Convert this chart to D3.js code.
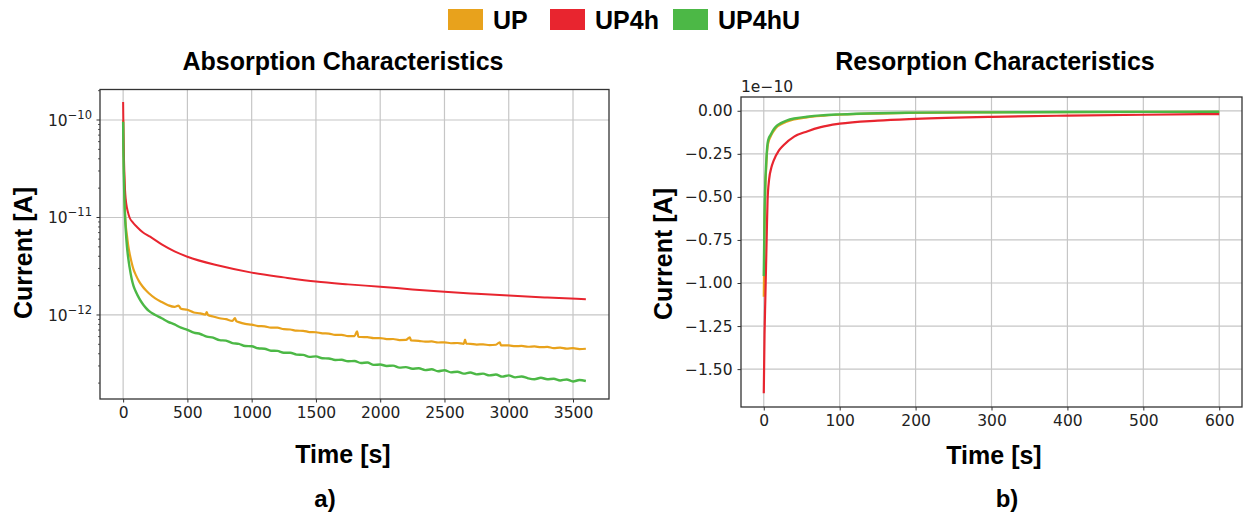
<!DOCTYPE html>
<html>
<head>
<meta charset="utf-8">
<script src="https://cdn.jsdelivr.net/npm/d3@7"></script>
<style>
  body { margin: 0; background: #fff; }
  .tick text { font-family: "DejaVu Sans", sans-serif; font-size: 15.5px; fill: #222; }
  .tick line { stroke: #333; }
  .bold { font-family: "Liberation Sans", Arial, sans-serif; font-weight: bold; fill: #000; }
</style>
</head>
<body>
<script>
// series names and colours
var seriesNames = ['UP', 'UP4h', 'UP4hU'];
var seriesColors = ['#E8A21C', '#E8252F', '#4CB846'];

// absorption: [time s, current pA]
var absUP = [[0,100],[1,75],[2,60],[5,35],[10,20],[15,11],[20,8.5],[30,6.5],[40,5.1],[50,4.3],[65,3.5],[80,2.95],[100,2.55],[125,2.2],[150,1.97],[175,1.8],[200,1.67],[250,1.48],[300,1.36],[350,1.26],[400,1.21],[430,1.25],[450,1.16],[500,1.13],[550,1.06],[600,1.04],[640,1.01],[650,1.07],[660,1.0],[700,0.965],[750,0.925],[800,0.905],[850,0.87],[870,0.93],[880,0.865],[900,0.845],[950,0.81],[1000,0.795],[1050,0.77],[1100,0.765],[1150,0.74],[1200,0.74],[1250,0.715],[1300,0.71],[1350,0.69],[1400,0.688],[1450,0.668],[1500,0.665],[1550,0.648],[1600,0.645],[1650,0.625],[1700,0.625],[1750,0.608],[1800,0.606],[1820,0.68],[1830,0.598],[1850,0.594],[1900,0.592],[1950,0.578],[2000,0.58],[2050,0.566],[2100,0.567],[2150,0.553],[2200,0.555],[2230,0.59],[2240,0.548],[2300,0.543],[2350,0.532],[2400,0.535],[2450,0.522],[2500,0.524],[2550,0.513],[2600,0.516],[2650,0.505],[2660,0.56],[2670,0.507],[2700,0.506],[2750,0.497],[2800,0.5],[2850,0.49],[2900,0.495],[2930,0.525],[2940,0.487],[3000,0.487],[3050,0.478],[3100,0.482],[3150,0.472],[3200,0.476],[3250,0.467],[3300,0.47],[3350,0.458],[3400,0.463],[3450,0.452],[3500,0.456],[3550,0.446],[3600,0.45]];
var absUP4h = [[0,153],[1,115],[2,90],[5,50],[10,28],[15,19],[20,15.5],[30,12.5],[40,11],[50,10],[75,8.9],[106,8.05],[150,7.1],[210,6.35],[300,5.3],[400,4.5],[500,3.96],[750,3.2],[1000,2.72],[1250,2.43],[1500,2.2],[1750,2.06],[2000,1.95],[2250,1.83],[2500,1.73],[2750,1.65],[3000,1.58],[3300,1.51],[3600,1.45]];
var absUP4hU = [[0,96],[1,70],[2,50],[5,28],[10,15],[15,10],[20,7.5],[30,5.0],[40,3.8],[50,3.1],[65,2.4],[80,2.0],[100,1.72],[125,1.48],[150,1.31],[175,1.19],[200,1.1],[250,1.0],[300,0.925],[350,0.85],[400,0.8],[450,0.74],[500,0.705],[550,0.66],[600,0.638],[650,0.6],[700,0.585],[750,0.552],[800,0.545],[850,0.515],[900,0.505],[950,0.48],[1000,0.478],[1050,0.455],[1100,0.45],[1150,0.43],[1200,0.428],[1250,0.41],[1300,0.41],[1350,0.392],[1400,0.39],[1450,0.372],[1500,0.376],[1550,0.36],[1600,0.358],[1650,0.345],[1700,0.347],[1750,0.335],[1800,0.337],[1850,0.322],[1900,0.325],[1950,0.308],[2000,0.31],[2050,0.3],[2100,0.302],[2150,0.288],[2200,0.292],[2250,0.281],[2300,0.284],[2350,0.272],[2400,0.277],[2450,0.265],[2500,0.271],[2550,0.258],[2600,0.262],[2650,0.25],[2700,0.257],[2750,0.246],[2800,0.25],[2850,0.24],[2900,0.245],[2950,0.233],[3000,0.24],[3050,0.229],[3100,0.234],[3150,0.224],[3200,0.219],[3250,0.227],[3300,0.219],[3350,0.222],[3400,0.213],[3450,0.218],[3500,0.208],[3550,0.215],[3600,0.21]];

// resorption: [time s, current in 1e-10 A]
var resUP = [[0,-1.08],[1,-0.68],[2,-0.46],[3,-0.35],[4,-0.26],[5,-0.21],[7,-0.17],[9,-0.15],[12,-0.125],[16,-0.1],[22,-0.08],[30,-0.063],[40,-0.05],[57,-0.038],[75,-0.03],[100,-0.023],[150,-0.016],[200,-0.012],[300,-0.009],[400,-0.0075],[500,-0.0065],[600,-0.006]];
var resUP4h = [[0,-1.64],[1,-1.3],[2,-1.1],[3,-0.9],[4,-0.7],[5,-0.52],[7,-0.4],[10,-0.33],[13,-0.29],[20,-0.23],[26,-0.2],[40,-0.15],[57,-0.12],[75,-0.095],[100,-0.075],[150,-0.057],[200,-0.047],[300,-0.035],[400,-0.028],[500,-0.023],[600,-0.019]];
var resUP4hU = [[0,-0.96],[1,-0.6],[2,-0.42],[3,-0.32],[4,-0.24],[5,-0.19],[7,-0.155],[9,-0.14],[12,-0.115],[16,-0.092],[22,-0.073],[30,-0.057],[40,-0.045],[57,-0.035],[75,-0.027],[100,-0.021],[150,-0.014],[200,-0.011],[300,-0.009],[400,-0.0075],[500,-0.0065],[600,-0.006]];

// tick values
var absXTicks = [0, 500, 1000, 1500, 2000, 2500, 3000, 3500];
var absYTicks = [1e-10, 1e-11, 1e-12];
var absYExp = ['\u221210', '\u221211', '\u221212'];
var resXTicks = [0, 100, 200, 300, 400, 500, 600];
var resYTicks = [0, -0.25, -0.5, -0.75, -1.0, -1.25, -1.5];

var svg = d3.select('body').append('svg')
  .attr('width', 1251)
  .attr('height', 516);

// legend
var legendX = [448, 550, 673];
seriesNames.forEach(function(name, i) {
  svg.append('rect')
    .attr('x', legendX[i]).attr('y', 9)
    .attr('width', 35).attr('height', 21)
    .attr('fill', seriesColors[i]);
  svg.append('text')
    .attr('class', 'bold')
    .attr('x', legendX[i] + 45).attr('y', 29)
    .style('font-size', '25px')
    .text(name);
});

function drawGrid(box, xTicks, yTicks, xScale, yScale) {
  var g = svg.append('g');
  g.selectAll('.vgrid').data(xTicks).enter().append('line')
    .attr('x1', function(d) { return xScale(d); })
    .attr('x2', function(d) { return xScale(d); })
    .attr('y1', box.top).attr('y2', box.bottom)
    .attr('stroke', '#c6c6c6').attr('stroke-width', 1.2);
  g.selectAll('.hgrid').data(yTicks).enter().append('line')
    .attr('y1', function(d) { return yScale(d); })
    .attr('y2', function(d) { return yScale(d); })
    .attr('x1', box.left).attr('x2', box.right)
    .attr('stroke', '#c6c6c6').attr('stroke-width', 1.2);
}

function drawBorder(box) {
  svg.append('rect')
    .attr('x', box.left).attr('y', box.top)
    .attr('width', box.right - box.left)
    .attr('height', box.bottom - box.top)
    .attr('fill', 'none')
    .attr('stroke', '#333').attr('stroke-width', 1.3);
}

function drawLines(data, xScale, yScale, scaleV, width) {
  var line = d3.line()
    .curve(d3.curveMonotoneX)
    .x(function(d) { return xScale(d[0]); })
    .y(function(d) { return yScale(d[1] * scaleV); });
  data.forEach(function(series, i) {
    svg.append('path')
      .datum(series)
      .attr('d', line)
      .attr('fill', 'none')
      .attr('stroke', seriesColors[i])
      .attr('stroke-width', width[i])
      .attr('stroke-linejoin', 'round');
  });
}

// ---------- a) absorption ----------
var boxA = {left: 100, right: 609, top: 89.5, bottom: 399};
var xA = d3.scaleLinear().domain([-180, 3780]).range([boxA.left, boxA.right]);
var yA = d3.scaleLog().domain([1.374e-13, 2.056e-10]).range([boxA.bottom, boxA.top]);

drawGrid(boxA, absXTicks, absYTicks, xA, yA);
drawLines([absUP, absUP4h, absUP4hU], xA, yA, 1e-12, [2.2, 2, 2.4]);
drawBorder(boxA);

svg.append('g')
  .attr('transform', 'translate(0,' + boxA.bottom + ')')
  .call(d3.axisBottom(xA).tickValues(absXTicks).tickFormat(d3.format('d')).tickSize(3.5).tickPadding(4).tickSizeOuter(0))
  .call(function(g) { g.select('.domain').remove(); });

// log y axis: major ticks with superscript labels, minor ticks
var minorA = yA.ticks().filter(function(d) {
  var m = Math.round(d / Math.pow(10, Math.floor(Math.log10(d) + 1e-9)));
  return m !== 1;
});
svg.selectAll('.minorA').data(minorA).enter().append('line')
  .attr('x1', boxA.left).attr('x2', boxA.left - 2)
  .attr('y1', function(d) { return yA(d); })
  .attr('y2', function(d) { return yA(d); })
  .attr('stroke', '#333').attr('stroke-width', 0.8);
absYTicks.forEach(function(v, i) {
  svg.append('line')
    .attr('x1', boxA.left).attr('x2', boxA.left - 3.5)
    .attr('y1', yA(v)).attr('y2', yA(v))
    .attr('stroke', '#333').attr('stroke-width', 1);
  var t = svg.append('text')
    .attr('x', boxA.left - 8).attr('y', yA(v) + 6)
    .attr('text-anchor', 'end')
    .style('font-family', '"DejaVu Sans", sans-serif')
    .style('font-size', '15.5px').style('fill', '#222');
  t.append('tspan').text('10');
  t.append('tspan').attr('dy', -7).style('font-size', '11.5px').text(absYExp[i]);
});

svg.append('text').attr('class', 'bold')
  .attr('x', 343).attr('y', 70)
  .attr('text-anchor', 'middle').style('font-size', '25px')
  .text('Absorption Characteristics');
svg.append('text').attr('class', 'bold')
  .attr('x', 343).attr('y', 463)
  .attr('text-anchor', 'middle').style('font-size', '25px')
  .text('Time [s]');
svg.append('text').attr('class', 'bold')
  .attr('transform', 'translate(32,253) rotate(-90)')
  .attr('text-anchor', 'middle').style('font-size', '25px')
  .text('Current [A]');
svg.append('text').attr('class', 'bold')
  .attr('x', 325).attr('y', 507)
  .attr('text-anchor', 'middle').style('font-size', '24px')
  .text('a)');

// ---------- b) resorption ----------
var boxB = {left: 741, right: 1242, top: 97, bottom: 407};
var xB = d3.scaleLinear().domain([-30, 630]).range([boxB.left, boxB.right]);
var yB = d3.scaleLinear().domain([-1.72, 0.08]).range([boxB.bottom, boxB.top]);

drawGrid(boxB, resXTicks, resYTicks, xB, yB);
drawLines([resUP, resUP4h, resUP4hU], xB, yB, 1, [2.2, 2.2, 2.4]);
drawBorder(boxB);

svg.append('g')
  .attr('transform', 'translate(0,' + boxB.bottom + ')')
  .call(d3.axisBottom(xB).tickValues(resXTicks).tickFormat(d3.format('d')).tickSize(3.5).tickPadding(4).tickSizeOuter(0))
  .call(function(g) { g.select('.domain').remove(); });
svg.append('g')
  .attr('transform', 'translate(' + boxB.left + ',0)')
  .call(d3.axisLeft(yB).tickValues(resYTicks).tickFormat(d3.format('.2f')).tickSize(3.5).tickPadding(5).tickSizeOuter(0))
  .call(function(g) { g.select('.domain').remove(); });

svg.append('text')
  .attr('x', boxB.left).attr('y', 92)
  .style('font-family', '"DejaVu Sans", sans-serif')
  .style('font-size', '15.5px').style('fill', '#222')
  .text('1e\u221210');

svg.append('text').attr('class', 'bold')
  .attr('x', 995).attr('y', 70)
  .attr('text-anchor', 'middle').style('font-size', '25px')
  .text('Resorption Characteristics');
svg.append('text').attr('class', 'bold')
  .attr('x', 994).attr('y', 464)
  .attr('text-anchor', 'middle').style('font-size', '25px')
  .text('Time [s]');
svg.append('text').attr('class', 'bold')
  .attr('transform', 'translate(672,254) rotate(-90)')
  .attr('text-anchor', 'middle').style('font-size', '25px')
  .text('Current [A]');
svg.append('text').attr('class', 'bold')
  .attr('x', 1007).attr('y', 507)
  .attr('text-anchor', 'middle').style('font-size', '24px')
  .text('b)');
</script>
</body>
</html>
